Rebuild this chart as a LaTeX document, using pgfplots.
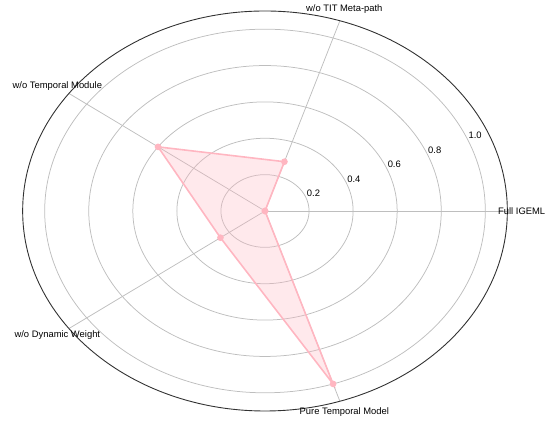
\documentclass[border=0pt]{standalone}
\usepackage{pgfplots}
\pgfplotsset{compat=1.18}
\usepackage{fontspec}
\setmainfont{Liberation Sans}
\definecolor{ringgray}{RGB}{190,190,190}
\definecolor{outer}{RGB}{50,50,50}
\definecolor{pinkline}{RGB}{255,182,193}
\begin{document}
\begin{tikzpicture}
\begin{axis}[
  name=ax,
  scale only axis,
  width=484.7pt, height=400pt,
  xmin=-1.1, xmax=1.1, ymin=-1.1, ymax=1.1,
  axis lines=none,
  clip=false,
  font=\fontsize{9.4}{11}\selectfont,
]
% rings
\pgfplotsinvokeforeach{0.2,0.4,0.6,0.8,1.0}{
  \draw[ringgray, line width=0.75pt] (axis cs:0,0) ellipse [x radius=#1, y radius=#1];
}
% spokes
\addplot[ringgray, line width=0.75pt, data cs=polar] coordinates {(0,0) (0,1.1)};
\addplot[ringgray, line width=0.75pt, data cs=polar] coordinates {(0,0) (72,1.1)};
\addplot[ringgray, line width=0.75pt, data cs=polar] coordinates {(0,0) (144,1.1)};
\addplot[ringgray, line width=0.75pt, data cs=polar] coordinates {(0,0) (216,1.1)};
\addplot[ringgray, line width=0.75pt, data cs=polar] coordinates {(0,0) (288,1.1)};
% outer circle
\draw[outer, line width=0.9pt] (axis cs:0,0) ellipse [x radius=1.1, y radius=1.1];
% radial tick labels
\pgfplotsinvokeforeach{0.2,0.4,0.6,0.8,1.0}{
  \node at (axis cs:{(#1+0.04)*cos(23.5)},{(#1+0.04)*sin(23.5)}) {#1};
}
% data fill
\addplot[draw=none, fill=pinkline, fill opacity=0.3, data cs=polar]
  coordinates {(0,0) (72,0.285) (144,0.60) (216,0.25) (288,1.0) (360,0)} -- cycle;
% data line
\addplot[pinkline, line width=1.6pt, mark=*, mark size=2.5pt,
  mark options={fill=pinkline, draw=pinkline}, data cs=polar]
  coordinates {(0,0) (72,0.285) (144,0.60) (216,0.25) (288,1.0) (360,0)};
% category labels
\node at (axis cs:{1.165*cos(0)},{1.165*sin(0)}) {Full IGEML};
\node at (axis cs:{1.165*cos(72)},{1.165*sin(72)}) {w/o TIT Meta-path};
\node at (axis cs:{1.165*cos(144)},{1.165*sin(144)}) {w/o Temporal Module};
\node at (axis cs:{1.165*cos(216)},{1.165*sin(216)}) {w/o Dynamic Weight};
\node at (axis cs:{1.165*cos(288)},{1.165*sin(288)}) {Pure Temporal Model};
\end{axis}
\pgfresetboundingbox
\path (ax.center) ++(-265pt,-211pt) rectangle ++(550pt,422pt);
\end{tikzpicture}
\end{document}
